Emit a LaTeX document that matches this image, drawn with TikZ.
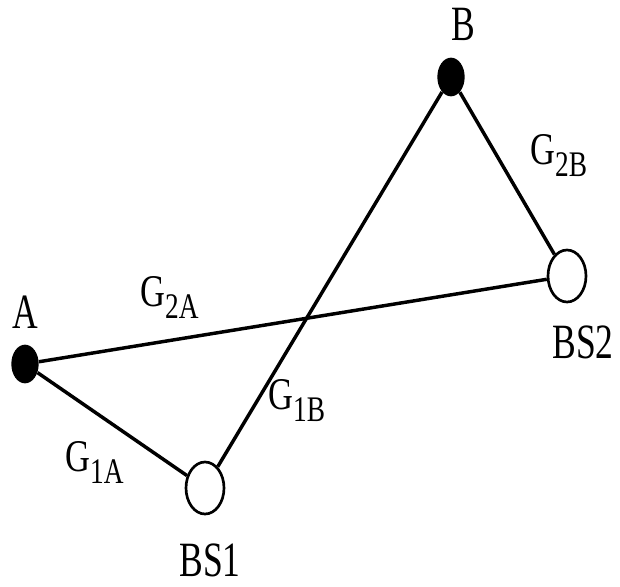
\documentclass[tikz,border=0pt]{standalone}
\usepackage{graphicx}
\usepackage{fontspec}
\setmainfont{Liberation Serif}
\usetikzlibrary{shapes.geometric}

\newcommand{\gainlbl}[1]{\scalebox{0.76}[1]{G\raisebox{-9pt}{\fontsize{27}{27}\selectfont #1}}}
\newcommand{\namelbl}[1]{\scalebox{0.72}[1]{#1}}

\tikzset{
    terminal/.style={ellipse, fill=black, minimum width=20.5pt, minimum height=29pt, inner sep=0pt},
    station/.style={ellipse, draw, line width=2pt, fill=white, minimum width=28.5pt, minimum height=39pt, inner sep=0pt},
    link/.style={line width=2.6pt},
    lbltext/.style={font=\fontsize{37}{37}\selectfont, inner sep=0pt},
    gain/.style={font=\fontsize{34}{34}\selectfont, inner sep=0pt, anchor=base west}
}

\begin{document}
\begin{tikzpicture}[x=0.75pt, y=-0.75pt]
    \useasboundingbox (0,0) rectangle (620,586);

    % users and base stations
    \node[terminal] (A) at (25,364) {};
    \node[terminal] (B) at (451,77) {};
    \node[station] (BS1) at (205,488) {};
    \node[station] (BS2) at (567,276) {};

    % links
    \draw[link] (A) -- (BS1);
    \draw[link] (A) -- (BS2);
    \draw[link] (B) -- (BS1);
    \draw[link] (B) -- (BS2);

    % names
    \node[lbltext] (nA) at (25,312) {\namelbl{A}};
    \node[lbltext] (nB) at (463,24) {\namelbl{B}};
    \node[lbltext] (nBS1) at (210,560) {\namelbl{BS1}};
    \node[lbltext] (nBS2) at (583,342) {\namelbl{BS2}};

    % gains
    \node[gain] (g2A) at (140,306) {\gainlbl{2A}};
    \node[gain] (g1B) at (268,409) {\gainlbl{1B}};
    \node[gain] (g1A) at (65,471) {\gainlbl{1A}};
    \node[gain] (g2B) at (530,164) {\gainlbl{2B}};
\end{tikzpicture}
\end{document}
